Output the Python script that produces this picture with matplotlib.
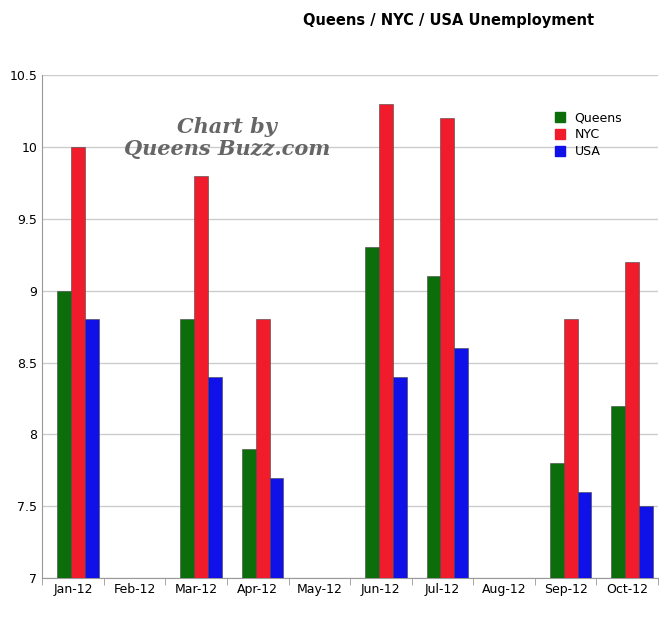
import numpy as np
import matplotlib.pyplot as plt
from matplotlib.lines import Line2D

months = ['Jan-12', 'Feb-12', 'Mar-12', 'Apr-12', 'May-12', 'Jun-12', 'Jul-12', 'Aug-12', 'Sep-12', 'Oct-12']
queens = [9.0, np.nan, 8.8, 7.9, np.nan, 9.3, 9.1, np.nan, 7.8, 8.2]
nyc = [10.0, np.nan, 9.8, 8.8, np.nan, 10.3, 10.2, np.nan, 8.8, 9.2]
usa = [8.8, np.nan, 8.4, 7.7, np.nan, 8.4, 8.6, np.nan, 7.6, 7.5]

series = [('Queens', queens, '#0b6e0b'), ('NYC', nyc, '#f01c2c'), ('USA', usa, '#1010e8')]

fig = plt.figure(figsize=(6.6, 6.25), dpi=100)
ax = fig.add_axes([0.064, 0.075, 0.933, 0.805])

x = np.arange(len(months))
w = 0.225
for i, (name, vals, col) in enumerate(series):
    v = np.array(vals)
    ax.bar(x + (i - 1) * w + 0.08, v - 7, w, bottom=7, color=col, edgecolor='#444444', linewidth=0.4, zorder=3)

ax.set_xlim(-0.5, len(months) - 0.5)
ax.set_ylim(7, 10.5)
ax.set_yticks(np.arange(7, 10.51, 0.5))
ax.set_yticklabels(['7', '7.5', '8', '8.5', '9', '9.5', '10', '10.5'], fontsize=9)
ax.set_xticks(x)
ax.set_xticklabels(months, fontsize=9)
ax.set_xticks(np.arange(-0.5, len(months)), minor=True)
ax.tick_params(axis='x', which='major', length=0)
ax.tick_params(axis='x', which='minor', length=5, color='#999999')
ax.tick_params(axis='y', length=0)
ax.grid(axis='y', color='#cccccc', linewidth=1, zorder=0)
for s in ['top', 'right']:
    ax.spines[s].set_visible(False)
for s in ['left', 'bottom']:
    ax.spines[s].set_color('#999999')

handles = [Line2D([], [], marker='s', linestyle='', color=c, markersize=7) for _, _, c in series]
ax.legend(handles, [n for n, _, _ in series], loc='upper right', bbox_to_anchor=(0.96, 0.95),
          frameon=False, fontsize=9, handletextpad=0.2, labelspacing=0.3)

fig.text(0.68, 0.96, 'Queens / NYC / USA Unemployment', ha='center', fontsize=10.5, fontweight='bold')
ax.text(0.30, 0.875, 'Chart by\nQueens Buzz.com', transform=ax.transAxes, ha='center', va='center',
        fontsize=15, fontweight='bold', style='italic', family='DejaVu Serif', color='#666666',
        linespacing=1.1, zorder=5)

fig.savefig('out.png', dpi=100)
